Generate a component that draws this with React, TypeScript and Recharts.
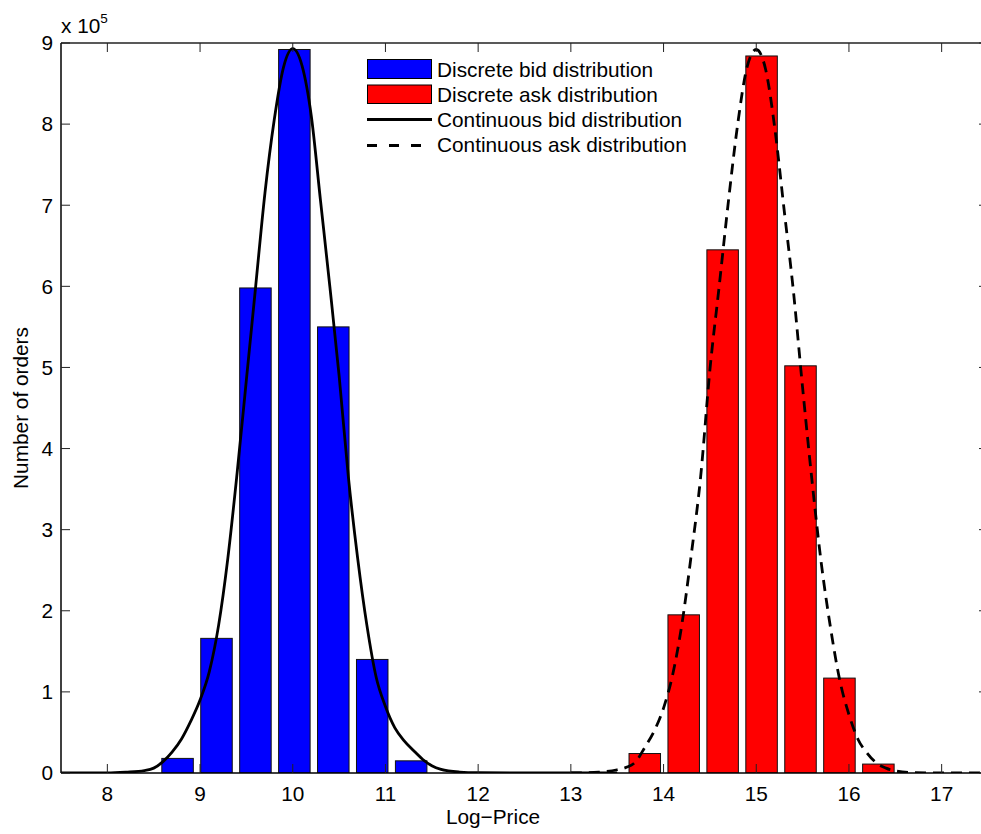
import { ComposedChart, Bar, Line, XAxis, YAxis } from 'recharts';

// discrete distributions (bar centres in log-price, number of orders)
const bidPrices = [8.76, 9.18, 9.6, 10.02, 10.44, 10.86, 11.28];
const bidCounts = [18000, 166000, 598000, 892000, 550000, 140000, 15000];
const askPrices = [13.8, 14.22, 14.64, 15.06, 15.48, 15.9, 16.32];
const askCounts = [24000, 195000, 645000, 884000, 502000, 117000, 11000];

// continuous distributions
const bidCurvePrices = [
  7.5, 8.0, 8.2, 8.4, 8.5, 8.6, 8.7, 8.8, 8.9, 9.0, 9.1, 9.2, 9.3, 9.4, 9.5, 9.6, 9.7, 9.8, 9.9, 10.0,
  10.1, 10.2, 10.3, 10.4, 10.5, 10.6, 10.7, 10.8, 10.9, 11.0, 11.1, 11.2, 11.3, 11.4, 11.5, 11.6, 11.8,
  12.0, 12.5, 13.0, 13.5,
];
const bidCurveCounts = [
  0, 0, 1000, 3000, 6000, 14000, 26000, 42000, 64000, 90000, 125000, 182000, 265000, 370000, 485000,
  600000, 715000, 805000, 870000, 893000, 872000, 810000, 705000, 600000, 490000, 365000, 265000,
  182000, 118000, 82000, 56000, 40000, 28000, 17000, 9000, 4500, 1200, 300, 0, 0, 0,
];
const askCurvePrices = [
  13.0, 13.3, 13.5, 13.6, 13.7, 13.8, 13.9, 14.0, 14.1, 14.2, 14.3, 14.4, 14.5, 14.6, 14.7, 14.8, 14.9,
  15.0, 15.1, 15.2, 15.3, 15.4, 15.5, 15.6, 15.7, 15.8, 15.9, 16.0, 16.1, 16.2, 16.3, 16.4, 16.5, 16.7,
  17.0, 17.5,
];
const askCurveCounts = [
  0, 1000, 4000, 7000, 14000, 32000, 52000, 80000, 122000, 185000, 270000, 365000, 497000, 600000,
  705000, 800000, 870000, 892000, 868000, 795000, 695000, 595000, 475000, 362000, 260000, 180000,
  115000, 72000, 41000, 24000, 12000, 6000, 2500, 500, 0, 0,
];

const xTicks = [8, 9, 10, 11, 12, 13, 14, 15, 16, 17];
const yTicks = [0, 100000, 200000, 300000, 400000, 500000, 600000, 700000, 800000, 900000];
const legendLabels = [
  'Discrete bid distribution',
  'Discrete ask distribution',
  'Continuous bid distribution',
  'Continuous ask distribution',
];

const FONT = '"Liberation Sans", Arial, Helvetica, sans-serif';
const FS = 20.8;
const BLUE = '#0000ff';
const RED = '#ff0000';
const BAR_W = 31.5;

type Row = { x: number; count?: number; side?: 'bid' | 'ask'; bidCurve?: number; askCurve?: number };

function buildRows(): Row[] {
  const map = new Map<number, Row>();
  const row = (x: number) => {
    let r = map.get(x);
    if (!r) {
      r = { x };
      map.set(x, r);
    }
    return r;
  };
  bidPrices.forEach((p, i) => {
    const r = row(p);
    r.count = bidCounts[i];
    r.side = 'bid';
  });
  askPrices.forEach((p, i) => {
    const r = row(p);
    r.count = askCounts[i];
    r.side = 'ask';
  });
  bidCurvePrices.forEach((p, i) => { row(p).bidCurve = bidCurveCounts[i]; });
  askCurvePrices.forEach((p, i) => { row(p).askCurve = askCurveCounts[i]; });
  return [...map.values()].sort((a, b) => a.x - b.x);
}

const rows = buildRows();

// bars keep the centre the scale gives them, with a fixed width
function BarShape(props: any) {
  const { x, y, width, height, payload } = props;
  if (payload?.count == null || !(height > 0)) return null;
  const cx = x + width / 2;
  return (
    <rect
      x={cx - BAR_W / 2}
      y={y}
      width={BAR_W}
      height={height}
      fill={payload.side === 'bid' ? BLUE : RED}
      stroke="#111"
      strokeWidth={1}
    />
  );
}

// mirror axes: tick marks only, no labels
const NoLabel = () => <g />;

const tickStyle = { fill: '#000', fontSize: FS, fontFamily: FONT };
const frame = { stroke: '#000', strokeWidth: 1.5 };
const tickLine = { stroke: '#222', strokeWidth: 1 };

export default function App() {
  return (
    <div style={{ position: 'absolute', left: 0, top: 0, width: 981, height: 834, overflow: 'hidden', background: '#fff' }}>
      <ComposedChart width={1000} height={834} data={rows} margin={{ top: 42, right: 11, bottom: 31, left: 0 }}>
        <XAxis
          xAxisId="bottom"
          type="number"
          dataKey="x"
          domain={[7.5, 17.5]}
          allowDataOverflow
          ticks={xTicks}
          interval={0}
          height={30}
          tickSize={-9}
          tickMargin={22}
          tick={tickStyle}
          axisLine={frame}
          tickLine={tickLine}
          label={() => (
            <text x={493} y={824} textAnchor="middle" fontSize={FS} fontFamily={FONT} fill="#000">
              Log−Price
            </text>
          )}
        />
        <XAxis
          xAxisId="top"
          orientation="top"
          type="number"
          dataKey="x"
          domain={[7.5, 17.5]}
          allowDataOverflow
          ticks={xTicks}
          interval={0}
          height={1}
          tickSize={-9}
          tick={NoLabel}
          axisLine={{ stroke: '#222', strokeWidth: 1.3 }}
          tickLine={tickLine}
        />
        <YAxis
          yAxisId="left"
          type="number"
          domain={[0, 900000]}
          allowDataOverflow
          ticks={yTicks}
          interval={0}
          width={61}
          tickSize={-9}
          tickMargin={17}
          tick={tickStyle}
          tickFormatter={(v: number) => String(Math.round(v / 100000))}
          axisLine={frame}
          tickLine={tickLine}
          label={() => (
            <g>
              <text x={61} y={33} fontSize={FS} fontFamily={FONT} fill="#000">
                x 10
                <tspan dy={-10} fontSize={13.5}>5</tspan>
              </text>
              <text
                x={28}
                y={408}
                textAnchor="middle"
                fontSize={FS}
                fontFamily={FONT}
                fill="#000"
                transform="rotate(-90, 28, 408)"
              >
                Number of orders
              </text>
            </g>
          )}
        />
        <YAxis
          yAxisId="right"
          orientation="right"
          type="number"
          domain={[0, 900000]}
          allowDataOverflow
          ticks={yTicks}
          interval={0}
          width={1}
          tickSize={-9}
          tick={NoLabel}
          axisLine={{ stroke: '#222', strokeWidth: 1.3 }}
          tickLine={tickLine}
        />
        <Bar xAxisId="bottom" yAxisId="left" dataKey="count" shape={BarShape} isAnimationActive={false} />
        <Line
          xAxisId="bottom"
          yAxisId="left"
          dataKey="bidCurve"
          type="monotone"
          connectNulls
          dot={false}
          activeDot={false}
          stroke="#000"
          strokeWidth={2.8}
          isAnimationActive={false}
        />
        <Line
          xAxisId="bottom"
          yAxisId="left"
          dataKey="askCurve"
          type="monotone"
          connectNulls
          dot={false}
          activeDot={false}
          stroke="#000"
          strokeWidth={2.8}
          strokeDasharray="11 7"
          isAnimationActive={false}
        />
      </ComposedChart>
      <svg
        width={981}
        height={834}
        style={{ position: 'absolute', left: 0, top: 0, pointerEvents: 'none' }}
      >
        <rect x={367.5} y={59.5} width={64} height={19} fill={BLUE} stroke="#000" strokeWidth={1} />
        <rect x={367.5} y={85} width={64} height={18.5} fill={RED} stroke="#000" strokeWidth={1} />
        <line x1={367} y1={119.5} x2={432} y2={119.5} stroke="#000" strokeWidth={2.8} />
        <line x1={367} y1={145.5} x2={432} y2={145.5} stroke="#000" strokeWidth={2.8} strokeDasharray="10 12" />
        {legendLabels.map((t, i) => (
          <text key={t} x={437} y={76.7 + i * 25} fontSize={FS} fontFamily={FONT} fill="#000">
            {t}
          </text>
        ))}
      </svg>
    </div>
  );
}
